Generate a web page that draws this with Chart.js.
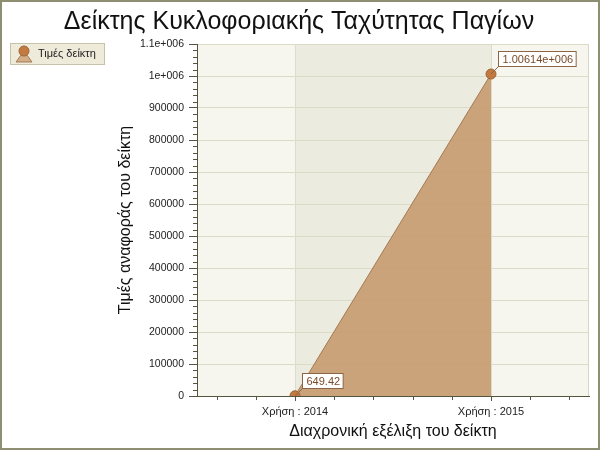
<!DOCTYPE html>
<html lang="el">
<head>
  <meta charset="UTF-8">
  <title>Δείκτης Κυκλοφοριακής Ταχύτητας Παγίων</title>
  <script src="https://cdn.jsdelivr.net/npm/chart.js"></script>
  <style>
    body {
      margin: 0;
      background-color: #ffffff;
    }
    #wrap {
      width: 600px;
      height: 450px;
    }
  </style>
</head>
<body>
  <div id="wrap">
    <canvas id="indexChart" width="600" height="450"></canvas>
  </div>

  <script>
    const chartTitle = 'Δείκτης Κυκλοφοριακής Ταχύτητας Παγίων';
    const seriesName = 'Τιμές δείκτη';
    const xTitle = 'Διαχρονική εξέλιξη του δείκτη';
    const yTitle = 'Τιμές αναφοράς του δείκτη';
    const years = ['Χρήση : 2014', 'Χρήση : 2015'];
    const indexValues = [649.42, 1006140];
    const yMax = 1100000;
    const yMajorStep = 100000;

    const fontFamily = '"Liberation Sans", Arial, sans-serif';

    // μορφή τύπου %g (6 σημαντικά ψηφία, εκθέτης με 3 ψηφία)
    function formatG(v) {
      if (v === 0) return '0';
      const exp = Math.floor(Math.log10(Math.abs(v)));
      if (exp >= 6) {
        const mant = parseFloat((v / Math.pow(10, exp)).toPrecision(6));
        return mant + 'e+' + String(exp).padStart(3, '0');
      }
      return String(parseFloat(v.toPrecision(6)));
    }

    const isMajorX = v => Math.abs(v - Math.round(v)) < 1e-6;
    const isMajorY = v => v % yMajorStep === 0;

    // φόντο περιοχής σχεδίασης, λωρίδα ανάμεσα στις χρήσεις
    const backgroundPlugin = {
      id: 'plotBackground',
      beforeDraw(chart) {
        const { ctx, chartArea: a, scales } = chart;
        ctx.save();
        ctx.fillStyle = '#f7f6ee';
        ctx.fillRect(a.left, a.top, a.right - a.left, a.bottom - a.top);
        const x0 = scales.x.getPixelForValue(0);
        const x1 = scales.x.getPixelForValue(years.length - 1);
        ctx.fillStyle = '#ecebdf';
        ctx.fillRect(x0, a.top, x1 - x0, a.bottom - a.top);
        ctx.strokeStyle = '#d6d6c6';
        ctx.lineWidth = 1;
        ctx.beginPath();
        ctx.moveTo(a.left, a.top + 0.5);
        ctx.lineTo(a.right - 0.5, a.top + 0.5);
        ctx.lineTo(a.right - 0.5, a.bottom);
        ctx.stroke();
        ctx.restore();
      }
    };

    // ετικέτες τιμών, δευτερεύουσες υποδιαιρέσεις, υπόμνημα, τίτλος, πλαίσιο
    const decorPlugin = {
      id: 'decor',
      afterDraw(chart) {
        const { ctx, scales } = chart;
        ctx.save();

        // δευτερεύουσες υποδιαιρέσεις
        ctx.strokeStyle = '#55553f';
        ctx.lineWidth = 1;
        ctx.beginPath();
        scales.y.ticks.forEach(t => {
          if (isMajorY(t.value)) return;
          const y = Math.round(scales.y.getPixelForValue(t.value)) + 0.5;
          ctx.moveTo(scales.y.right - 4, y);
          ctx.lineTo(scales.y.right, y);
        });
        scales.x.ticks.forEach(t => {
          if (isMajorX(t.value)) return;
          const x = Math.round(scales.x.getPixelForValue(t.value)) + 0.5;
          ctx.moveTo(x, scales.x.top);
          ctx.lineTo(x, scales.x.top + 4);
        });
        ctx.stroke();

        // ετικέτες τιμών
        const meta = chart.getDatasetMeta(0);
        ctx.font = '11px ' + fontFamily;
        ctx.textBaseline = 'middle';
        meta.data.forEach((pt, i) => {
          const txt = formatG(indexValues[i]);
          const w = ctx.measureText(txt).width + 7;
          const bx = Math.round(pt.x) + 7.5;
          const by = Math.round(pt.y) - 22.5;
          ctx.strokeStyle = '#8c6446';
          ctx.beginPath();
          ctx.moveTo(pt.x, pt.y);
          ctx.lineTo(bx, by + 15);
          ctx.stroke();
          ctx.fillStyle = '#ffffff';
          ctx.fillRect(bx, by, w, 15);
          ctx.strokeRect(bx, by, w, 15);
          ctx.fillStyle = '#7a4a28';
          ctx.textAlign = 'left';
          ctx.fillText(txt, bx + 4, by + 8);
        });

        // υπόμνημα
        ctx.fillStyle = '#efebdb';
        ctx.fillRect(10.5, 43.5, 94, 21);
        ctx.strokeStyle = '#c9c2aa';
        ctx.strokeRect(10.5, 43.5, 94, 21);
        ctx.fillStyle = '#d2ad88';
        ctx.strokeStyle = '#a67a52';
        ctx.beginPath();
        ctx.moveTo(16, 62);
        ctx.lineTo(24, 51);
        ctx.lineTo(32, 62);
        ctx.closePath();
        ctx.fill();
        ctx.stroke();
        ctx.fillStyle = '#c47a3e';
        ctx.strokeStyle = '#9a6538';
        ctx.beginPath();
        ctx.arc(24, 51, 5, 0, Math.PI * 2);
        ctx.fill();
        ctx.stroke();
        ctx.fillStyle = '#222222';
        ctx.font = '11px ' + fontFamily;
        ctx.textAlign = 'left';
        ctx.fillText(seriesName, 38, 54);

        // τίτλος
        ctx.fillStyle = '#111111';
        ctx.font = '25px ' + fontFamily;
        ctx.textAlign = 'center';
        ctx.fillText(chartTitle, 299, 22);

        // εξωτερικό πλαίσιο
        ctx.strokeStyle = '#8e8e70';
        ctx.lineWidth = 2;
        ctx.strokeRect(1, 1, 598, 448);
        ctx.restore();
      }
    };

    const ctx = document.getElementById('indexChart').getContext('2d');
    new Chart(ctx, {
      type: 'line',
      data: {
        datasets: [{
          label: seriesName,
          data: indexValues.map((v, i) => ({ x: i, y: v })),
          borderColor: '#a57a52',
          borderWidth: 1,
          backgroundColor: 'rgba(196, 150, 106, 0.85)',
          fill: 'origin',
          tension: 0,
          pointRadius: 5,
          pointBackgroundColor: '#c47a3e',
          pointBorderColor: '#9a6538',
          pointBorderWidth: 1
        }]
      },
      options: {
        responsive: false,
        animation: false,
        devicePixelRatio: 1,
        layout: {
          padding: { left: 112, right: 11, top: 44, bottom: 4 }
        },
        plugins: {
          legend: { display: false },
          title: { display: false },
          tooltip: { enabled: false }
        },
        scales: {
          x: {
            type: 'linear',
            min: -0.5,
            max: years.length - 0.5,
            afterBuildTicks: scale => {
              const t = [];
              for (let k = -2; k <= 5 * years.length - 3; k++) t.push({ value: k / 5 });
              scale.ticks = t;
            },
            afterFit: scale => { scale.height = 50; },
            ticks: {
              autoSkip: false,
              maxRotation: 0,
              padding: 4,
              color: '#222222',
              font: { family: fontFamily, size: 11 },
              callback: v => isMajorX(v) ? years[Math.round(v)] : ''
            },
            grid: {
              color: c => isMajorX(c.tick.value) ? '#dcdccb' : 'rgba(0,0,0,0)',
              tickColor: c => isMajorX(c.tick.value) ? '#55553f' : 'rgba(0,0,0,0)',
              tickLength: 5
            },
            border: { display: true, color: '#55553f' },
            title: {
              display: true,
              text: xTitle,
              color: '#111111',
              font: { family: fontFamily, size: 16 },
              padding: { top: 4, bottom: 5 }
            }
          },
          y: {
            min: 0,
            max: yMax,
            afterBuildTicks: scale => {
              const t = [];
              for (let v = 0; v <= yMax; v += yMajorStep / 5) t.push({ value: v });
              scale.ticks = t;
            },
            afterFit: scale => { scale.width = 85; },
            ticks: {
              autoSkip: false,
              padding: 5,
              color: '#222222',
              font: { family: fontFamily, size: 10.5 },
              callback: v => isMajorY(v) ? formatG(v) : ''
            },
            grid: {
              color: c => isMajorY(c.tick.value) ? '#dcdcc6' : 'rgba(0,0,0,0)',
              tickColor: c => isMajorY(c.tick.value) ? '#55553f' : 'rgba(0,0,0,0)',
              tickLength: 8
            },
            border: { display: true, color: '#55553f' },
            title: {
              display: true,
              text: yTitle,
              color: '#111111',
              font: { family: fontFamily, size: 16 },
              padding: { top: 4, bottom: 4 }
            }
          }
        }
      },
      plugins: [backgroundPlugin, decorPlugin]
    });
  </script>
</body>
</html>
